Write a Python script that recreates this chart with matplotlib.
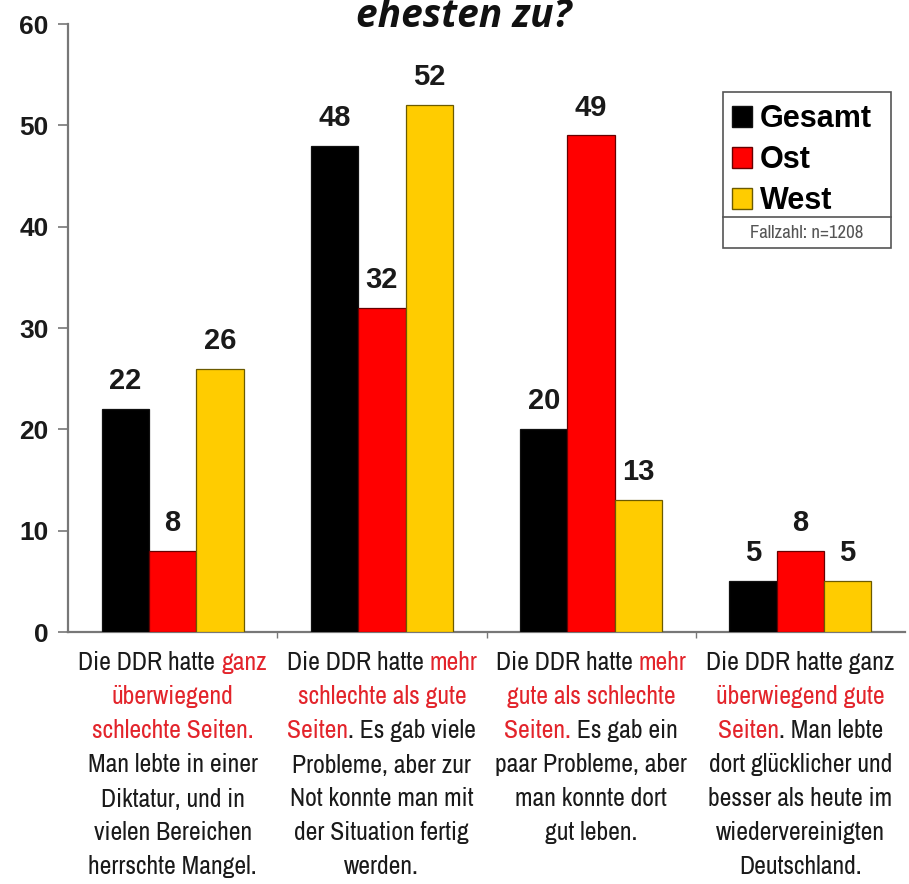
import matplotlib
matplotlib.use("Agg")
import matplotlib.pyplot as plt
from matplotlib.patches import Rectangle, Patch
from matplotlib.lines import Line2D
from matplotlib import font_manager as fm
import numpy as np

W, H = 909, 884

series_names = ["Gesamt", "Ost", "West"]
gesamt = [22, 48, 20, 5]
ost = [8, 32, 49, 8]
west = [26, 52, 13, 5]
colors = ["#000000", "#FF0000", "#FFCC00"]
yticks = [0, 10, 20, 30, 40, 50, 60]
title_text = "ehesten zu?"
note_text = "Fallzahl: n=1208"
RED = "#E3242B"
BLK = "#1A1A1A"
category_labels = [
    [[("Die DDR hatte ", BLK), ("ganz", RED)],
     [("überwiegend", RED)],
     [("schlechte Seiten.", RED)],
     [("Man lebte in einer", BLK)],
     [("Diktatur, und in", BLK)],
     [("vielen Bereichen", BLK)],
     [("herrschte Mangel.", BLK)]],
    [[("Die DDR hatte ", BLK), ("mehr", RED)],
     [("schlechte als gute", RED)],
     [("Seiten", RED), (". Es gab viele", BLK)],
     [("Probleme, aber zur", BLK)],
     [("Not konnte man mit", BLK)],
     [("der Situation fertig", BLK)],
     [("werden.", BLK)]],
    [[("Die DDR hatte ", BLK), ("mehr", RED)],
     [("gute als schlechte", RED)],
     [("Seiten.", RED), (" Es gab ein", BLK)],
     [("paar Probleme, aber", BLK)],
     [("man konnte dort", BLK)],
     [("gut leben.", BLK)]],
    [[("Die DDR hatte ganz", BLK)],
     [("überwiegend gute", RED)],
     [("Seiten", RED), (". Man lebte", BLK)],
     [("dort glücklicher und", BLK)],
     [("besser als heute im", BLK)],
     [("wiedervereinigten", BLK)],
     [("Deutschland.", BLK)]],
]


# pick condensed faces if installed (one regular, one semi-bold-ish)
def _w(v):
    try:
        return int(v)
    except (TypeError, ValueError):
        return {"normal": 400, "regular": 400, "medium": 500, "semibold": 600,
                "demibold": 600, "bold": 700, "light": 300}.get(str(v).lower(), 400)


conds = [f for f in fm.fontManager.ttflist
         if ("narrow" in f.name.lower() or "condensed" in f.name.lower()
             or f.stretch in ("condensed", "semi-condensed")) and f.style == "normal"]
if conds:
    fam = sorted({f.name for f in conds})[0]
    same = [f for f in conds if f.name == fam]
    reg = min(same, key=lambda f: abs(_w(f.weight) - 400))
    semi = min(same, key=lambda f: abs(_w(f.weight) - 560))
    note_prop = fm.FontProperties(fname=reg.fname)
    lab_prop = fm.FontProperties(fname=semi.fname)
else:
    note_prop = fm.FontProperties(family="Lato")
    lab_prop = fm.FontProperties(family="Lato", weight="bold")

fig = plt.figure(figsize=(W / 100, H / 100), dpi=100)
ax = fig.add_axes([68 / W, 1 - 632 / H, (905 - 68) / W, (632 - 24) / H])

x = np.arange(len(gesamt))
bw = 0.226
data = [gesamt, ost, west]
edge = ["#111111", "#660000", "#6b5a00"]
for j, (vals, c) in enumerate(zip(data, colors)):
    bars = ax.bar(x + (j - 1) * bw, vals, bw, color=c, edgecolor=edge[j], linewidth=0.9, zorder=3)
    for b, v in zip(bars, vals):
        ax.annotate(str(v), (b.get_x() + b.get_width() / 2, v), xytext=(0, 10),
                    textcoords="offset points", ha="center", va="bottom",
                    fontsize=21, fontweight="bold", color="#1a1a1a",
                    family="Liberation Sans")

ax.set_xlim(-0.5, 3.5)
ax.set_ylim(0, 60)
ax.set_yticks(yticks)
ax.set_yticklabels([str(t) for t in yticks], fontsize=19, fontweight="bold",
                   family="Liberation Sans", color="#1a1a1a")
ax.set_xticks([0.5, 1.5, 2.5])
ax.set_xticklabels([])
ax.tick_params(axis="y", length=7, width=1.2, color="#777777", pad=7)
ax.tick_params(axis="x", length=4, width=1.0, color="#777777", direction="out")
for s in ["top", "right"]:
    ax.spines[s].set_visible(False)
for s in ["left", "bottom"]:
    ax.spines[s].set_color("#777777")
    ax.spines[s].set_linewidth(1.6)

# title (cut off at top)
fig.text(464 / W, 1 - 27 / H, title_text, ha="center", va="baseline",
         fontsize=28, fontweight="bold", style="italic", family="Open Sans",
         color="#111111")

# legend box
lx0, lx1, ly0, ly1, lsep = 723, 891, 92, 248, 217
fig.add_artist(Rectangle((lx0 / W, 1 - ly1 / H), (lx1 - lx0) / W, (ly1 - ly0) / H,
                         transform=fig.transFigure, facecolor="white",
                         edgecolor="#555555", linewidth=1.2, zorder=5))
fig.add_artist(Line2D([lx0 / W, lx1 / W], [1 - lsep / H, 1 - lsep / H],
                      transform=fig.transFigure, color="#555555", linewidth=1.2, zorder=6))
handles = [Patch(facecolor=c, edgecolor=e, linewidth=1.0) for c, e in zip(colors, edge)]
leg = fig.legend(handles, series_names, loc="upper left",
                 bbox_to_anchor=(729 / W, 1 - 101 / H), frameon=False,
                 prop={"family": "Liberation Sans", "weight": "bold", "size": 22},
                 handlelength=0.66, handleheight=0.66, handletextpad=0.25,
                 labelspacing=0.36, borderpad=0.1, borderaxespad=0.0)
leg.set_zorder(7)
note_prop.set_size(13.5)
fig.text((lx0 + lx1) / 2 / W, 1 - 233 / H, note_text, ha="center", va="center",
         fontproperties=note_prop, color="#555555", zorder=7)

# category labels with coloured segments
fig.canvas.draw()
r = fig.canvas.get_renderer()


def width_of(s, size):
    p = lab_prop.copy()
    p.set_size(size)
    t = fig.text(0, 0, s + "|", fontproperties=p)
    w1 = t.get_window_extent(r).width
    t.remove()
    t = fig.text(0, 0, "|", fontproperties=p)
    w2 = t.get_window_extent(r).width
    t.remove()
    return w1 - w2


# choose size so that the widest line is about 192 px
size = 20.0
widest = max(width_of("".join(s for s, _ in segs), size)
             for lines in category_labels for segs in lines)
size = min(size * 192.0 / widest, 19.0)
prop = lab_prop.copy()
prop.set_size(size)

for i, lines in enumerate(category_labels):
    cx = ax.transData.transform((i, 0))[0]
    for k, segs in enumerate(lines):
        ypx = 663 + k * 34
        full = "".join(s for s, _ in segs)
        total = width_of(full, size)
        start = cx - total / 2
        prefix = ""
        for s, c in segs:
            xs = start + (width_of(prefix, size) if prefix else 0)
            fig.text(xs / W, 1 - ypx / H, s, ha="left", va="center", color=c,
                     fontproperties=prop)
            prefix += s

fig.savefig("out.png", dpi=100)
